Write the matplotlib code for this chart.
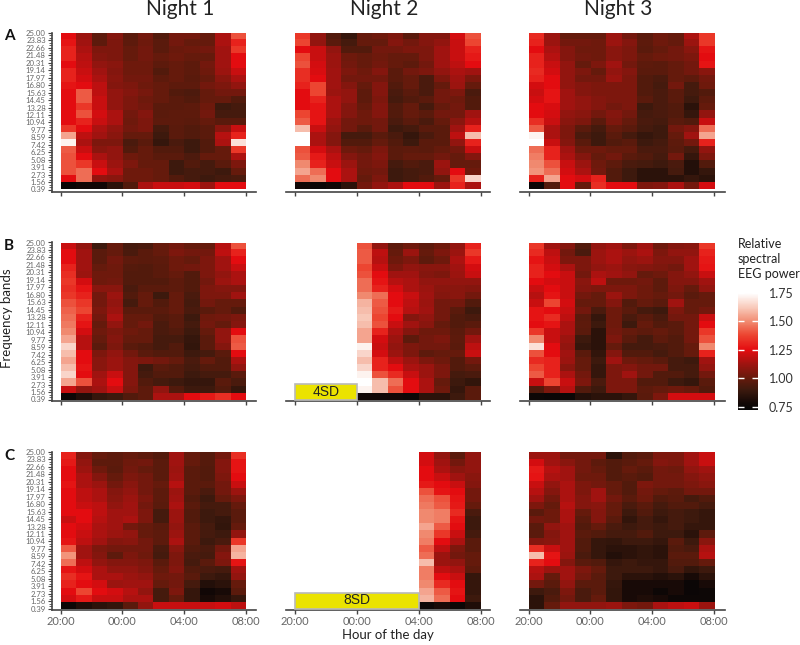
import numpy as np
import matplotlib
matplotlib.use("Agg")
import matplotlib.pyplot as plt
from matplotlib.colors import LinearSegmentedColormap, Normalize
from matplotlib.cm import ScalarMappable
from matplotlib.patches import Rectangle
from matplotlib.ticker import MultipleLocator

plt.rcParams['font.family'] = ['Lato', 'DejaVu Sans']

freq_labels = ['25.00','23.83','22.66','21.48','20.31','19.14','17.97','16.80','15.63','14.45','13.28',
               '12.11','10.94','9.77','8.59','7.42','6.25','5.08','3.91','2.73','1.56','0.39']
hour_ticks = [0, 4, 8, 12]
hour_labels = ['20:00', '00:00', '04:00', '08:00']
n = None

# each inner list is one hour column, top row (25.00) to bottom row (0.39)
A1 = [
 [1.25,1.27,1.3,1.3,1.25,1.3,1.3,1.27,1.25,1.25,1.25,1.25,1.25,1.35,1.55,1.72,1.42,1.4,1.4,1.4,1.25,.75],
 [1.12,1.13,1.15,1.17,1.18,1.2,1.22,1.25,1.42,1.42,1.35,1.4,1.3,1.25,1.18,1.15,1.2,1.25,1.35,1.45,1.45,.78],
 [.98,.98,1.05,1.07,1.1,1.13,1.15,1.18,1.18,1.2,1.2,1.22,1.2,1.15,1.13,1.05,1.08,1.15,1.2,1.25,1.1,.78],
 [1.07,1.05,1.05,1.05,1.08,1.07,1.08,1.07,1.1,1.1,1.1,1.15,1.15,1.1,1.08,1.05,1.1,1.1,1.12,1.15,1.08,.85],
 [.97,.98,1.0,1.0,1.02,1.02,1.03,1.05,1.07,1.05,1.05,1.03,1.02,1.03,1.0,.93,.95,1.02,1.05,1.02,1.02,.95],
 [1.03,1.02,1.03,1.03,1.02,1.02,1.03,1.02,1.04,1.02,1.03,1.07,1.05,1.05,1.0,.97,1.0,1.0,1.0,1.02,1.02,1.15],
 [.95,.97,.97,1.0,.98,.95,.98,1,1,1,.97,.97,.98,.92,.9,.88,.95,.97,1,1,1,1.2],
 [1.03,1.03,1.01,1.02,1.0,1,1,.98,.95,.97,.97,.98,.98,.97,.97,.93,.95,.97,.9,.9,.95,1.2],
 [1.03,1.0,1.02,1,.98,.98,.97,.98,.94,.95,.98,.98,.97,.95,.95,.9,.9,.94,.95,.92,.92,1.22],
 [1.0,1.0,1.03,1.0,1.03,1.02,1.0,1.03,1.0,1.0,1.02,1.03,1.0,.97,.97,.95,.95,1.0,.92,.92,.9,1.12],
 [1.15,1.15,1.13,1.13,1.13,1.12,1.08,1.05,1.03,1.0,.9,.92,.97,1.08,1.17,1.15,1.0,1.0,.97,.9,.92,1.25],
 [1.4,1.3,1.35,1.25,1.25,1.2,1.15,1.1,1.03,.95,.92,.92,.97,1.2,1.3,1.68,1.35,1.15,1.05,1.0,.93,1.25],
]
A2 = [
 [1.35,1.38,1.25,1.38,1.4,1.33,1.33,1.3,1.25,1.25,1.25,1.38,1.42,1.6,1.75,1.75,1.4,1.42,1.5,1.55,1.45,.78],
 [1.1,1.1,1.2,1.2,1.22,1.23,1.25,1.38,1.38,1.3,1.27,1.27,1.27,1.2,1.15,1.15,1.22,1.28,1.3,1.45,1.5,.75],
 [.95,.97,1.1,1.12,1.12,1.13,1.13,1.13,1.12,1.15,1.15,1.15,1.12,1.1,1.07,1.07,1.15,1.18,1.2,1.25,1.25,.78],
 [.88,.92,.95,1.02,1.03,1.05,1.03,1.07,1.1,1.1,1.07,1.07,1.03,1.03,.92,.95,1.02,1.07,1.12,1.15,1.15,.85],
 [1.0,1.0,.95,1.0,1.0,1.02,1.03,1.0,.98,.98,1.0,1.02,1.02,.97,.92,.95,1.0,1.03,1.03,1.02,1.0,1.03],
 [1.02,1.0,1.03,1.02,1.03,1.07,1.03,1.07,1.07,1.05,1.07,1.07,1.03,1.03,.97,1.0,1.05,1.07,1.05,1.03,1.05,1.1],
 [1.05,1.07,1.03,1.0,1.0,.97,.97,.95,.93,.92,.95,.95,.93,.9,.93,.95,.97,.97,.92,.9,.9,1.15],
 [.97,1.03,1.05,1.0,.98,1.03,1.0,1.0,.97,.95,1,1,.97,.92,.88,.9,.98,1,.95,.92,.92,1.25],
 [1.07,1.07,1.05,1.05,1.03,1.05,.93,.93,.93,.97,.92,.97,.93,.97,.93,.97,.97,1,.93,.93,.95,1.25],
 [1.07,1.1,1.13,1.13,1.13,1.1,1.05,1.0,1.03,1.03,1,1.03,1.0,.97,.97,.97,1,1.03,1.12,1.1,1.0,1.12],
 [1.22,1.2,1.2,1.2,1.18,1.15,1.13,1.12,1.05,1.02,1.03,1.03,1.08,1.13,1.18,1.1,1.03,1.0,1.0,1.25,1.35,1.3],
 [1.4,1.38,1.3,1.28,1.25,1.13,1.05,1.0,.93,.95,.95,1.13,1.17,1.3,1.6,1.3,1.2,1.07,1.0,1.02,1.65,1.15],
]
A3 = [
 [1.32,1.3,1.25,1.3,1.3,1.32,1.3,1.22,1.2,1.22,1.25,1.25,1.33,1.42,1.72,1.75,1.45,1.48,1.5,1.52,1.3,.75],
 [1.12,1.12,1.15,1.17,1.2,1.22,1.25,1.25,1.27,1.27,1.23,1.22,1.2,1.15,1.15,1.2,1.3,1.3,1.4,1.45,1.55,.95],
 [1.0,1.03,1.07,1.07,1.1,1.1,1.1,1.1,1.13,1.13,1.13,1.1,1.08,1.05,1.05,1.07,1.13,1.15,1.2,1.22,1.25,1.25],
 [1.0,1.03,1.02,1.03,1.0,1.05,1.03,1.07,1.07,1.1,1.1,1.08,1.05,.97,.93,.97,1.02,1.07,1.12,1.15,1.22,1.0],
 [1.0,1.02,1.02,1.02,1.05,1.0,1.03,1.05,1.05,1.07,1.07,1.03,.97,.92,.9,.9,1.02,1.0,1.02,1.03,1.3,1.33],
 [1.12,1.12,1.08,1.08,1.13,1.1,1.12,1.05,1.05,1.05,1.03,1.07,1.05,1.0,.97,.95,1.0,1.03,.98,.95,.95,1.25],
 [1.03,1.07,1.05,1.05,1.03,1.07,1.05,1.05,1.05,1.05,1.05,1.03,1.0,.97,.92,.97,1,.97,.93,.9,.9,1.25],
 [.97,.98,.97,1.0,.98,.97,.95,.95,.95,.97,.9,.92,.93,.92,.88,.9,.93,.95,.92,.85,.85,1.05],
 [1.02,1.02,1.0,1.02,.97,.97,.93,.92,.93,.93,.93,.93,.92,.9,.9,.92,.93,.92,.9,.85,.85,1.07],
 [1.0,1.0,1.03,1.03,1.0,1.0,1.0,1.03,.97,.97,.95,.95,.97,1.03,1.0,.98,.97,1.03,.93,.92,.85,1.15],
 [1.15,1.12,1.08,1.05,1.03,1.03,.98,.92,.92,.9,.85,.88,.95,1.07,1.13,1.03,.92,.88,.83,.83,.88,1.03],
 [1.35,1.35,1.27,1.25,1.27,1.08,1.03,1.02,.95,.98,1.0,1.1,1.2,1.45,1.55,1.3,1.1,1.05,.95,.88,.85,1.22],
]
B1 = [
 [1.2,1.25,1.25,1.3,1.33,1.35,1.33,1.35,1.4,1.43,1.45,1.47,1.5,1.55,1.65,1.6,1.55,1.6,1.65,1.55,1.2,.76],
 [1.1,1.13,1.13,1.13,1.12,1.22,1.27,1.3,1.35,1.38,1.3,1.27,1.22,1.17,1.17,1.25,1.25,1.27,1.25,1.4,1.1,.82],
 [.9,.97,.97,1.0,1.02,1.02,1.08,1.03,1.03,1.05,1.03,1.0,1.02,1.0,.97,1.05,1.08,1.08,1.13,1.15,1.13,.88],
 [1.0,1.0,1.03,1.02,1.02,1.03,1.08,1.12,1.1,1.12,1.15,1.1,1.05,1.07,1.05,1.1,1.12,1.12,1.2,1.25,1.2,.9],
 [.92,.93,.98,.96,.95,.95,.93,.95,.92,.97,1.0,1.0,1.02,1,.97,1.03,1.07,1.07,1.07,1.07,1.05,.95],
 [.93,.97,.97,.95,.95,.95,.97,1.0,1.0,.97,1,1.03,1.0,1.0,.95,.97,1.05,.9,.92,.95,.98,.98],
 [1.0,1.0,.98,.97,.97,.95,.97,.9,.95,.97,.95,.93,.93,.92,.92,.95,1.03,.97,.95,.92,1.1,1.15],
 [1.03,1.05,1.02,1.02,1.0,.98,.98,1,1,1,.97,.97,.95,.92,.95,.95,1.0,.95,.95,.9,.95,1.15],
 [1.0,1.03,1.0,1.03,.95,.95,.95,.93,.92,.93,.9,.92,.9,.88,.87,.9,.93,.92,.9,.88,.9,1.25],
 [1.0,1.03,1.05,1.05,1.05,1.03,1.05,1.05,1.03,.97,1.02,1.03,1,.97,.97,.92,1,.95,.92,.88,.9,1.28],
 [1.17,1.18,1.13,1.13,1.1,1.12,1.07,1.05,1.0,1,1.03,1,1.1,1.1,1.07,.97,.95,.95,.92,.97,.95,1.33],
 [1.4,1.3,1.25,1.2,1.15,1.15,1.07,1.13,1.0,.95,1.05,1.07,1.25,1.4,1.42,1.25,1.15,1.1,.97,.93,.88,1.25],
]
B2 = [
 [n]*22, [n]*22, [n]*22, [n]*22,
 [1.4,1.42,1.42,1.38,1.4,1.45,1.45,1.5,1.58,1.6,1.62,1.6,1.55,1.55,1.72,1.65,1.6,1.65,1.72,1.75,1.72,.78],
 [1.1,1.18,1.17,1.2,1.25,1.27,1.3,1.45,1.42,1.4,1.38,1.4,1.3,1.22,1.2,1.22,1.3,1.3,1.4,1.6,1.6,.78],
 [.98,1.0,1.02,1.05,1.13,1.17,1.22,1.25,1.25,1.28,1.25,1.2,1.15,1.12,1.1,1.12,1.18,1.25,1.32,1.45,1.4,.78],
 [1.02,1.12,1.05,1.1,1.13,1.15,1.15,1.2,1.18,1.17,1.07,1.13,1.07,.98,1.05,1.05,1.12,1.15,1.2,1.25,1.25,.76],
 [.98,1.0,.98,1.08,1.07,1.1,1.12,1.13,1.12,1.13,1.1,1.08,1.02,1.03,1.03,.98,1.05,1.12,1.12,1.15,1.15,.85],
 [1.02,1.05,1.02,1.08,1.05,1.1,1.08,1.07,1.03,1.03,1.03,1.0,1.02,1.05,1.03,1.0,1.02,1.05,1.05,1.0,1.02,.85],
 [1.1,1.12,1.15,1.13,1.12,1.1,1.08,1.08,1.03,.97,.95,.95,.97,.98,.97,1.0,.95,.95,.92,.9,.88,.9],
 [1.3,1.35,1.28,1.22,1.2,1.1,1.07,1.03,.95,.9,.93,.97,1.03,1.13,1.18,1.2,1.03,.98,.93,.87,.97,.97],
]
B3 = [
 [1.35,1.32,1.27,1.3,1.3,1.25,1.2,1.17,1.2,1.27,1.27,1.25,1.35,1.5,1.68,1.4,1.32,1.38,1.42,1.2,.95,.76],
 [1.13,1.18,1.2,1.22,1.25,1.22,1.25,1.27,1.38,1.25,1.32,1.27,1.2,1.2,1.25,1.25,1.3,1.3,1.3,1.38,1.05,.75],
 [1.07,1.03,1.05,1.15,1.2,1.2,1.2,1.2,1.22,1.2,1.18,1.15,1.15,1.12,1.1,1.13,1.12,1.08,1.15,1.2,1.17,.76],
 [.95,.93,1.05,1.05,1.03,1.08,1.07,1.03,1.0,1.03,.97,.98,.97,.9,.88,.97,1.0,1.0,1.03,1.05,.95,.83],
 [1.1,1.12,1.12,1.1,1.15,1.18,1.05,1.0,1.0,.93,.88,.9,.85,.85,.85,.87,.9,.88,.88,.93,.9,.85],
 [1.13,1.15,1.15,1.12,1.13,1.02,1.05,1.12,1.07,1.02,1.02,1.02,1.03,1.05,1.0,1.07,1.13,1.05,1.05,1.05,1.05,.85],
 [1.05,1.12,1.1,1.08,1.1,1.02,1.05,1.05,.95,.97,.93,.9,1.0,.97,.92,.95,1.02,1.07,1.13,1.05,1.05,.88],
 [1.13,1.15,1.12,1.07,1.0,1.03,1.02,1.02,1.0,.92,.97,1.0,.98,.92,.92,.95,1.0,1.03,1.03,.95,.98,.97],
 [1.02,1.05,1.07,1.05,1.02,.98,.98,1.0,.97,.9,.93,.95,1.0,.98,.93,.92,.97,1.03,.95,.95,1.0,1.05],
 [1.07,1.1,1.07,1.03,1.07,1.07,1.05,1.03,1.13,1.05,1.03,.97,.97,.95,.95,.95,.92,.92,.95,.9,1.02,1.22],
 [1.08,1.1,1.13,1.13,1.1,1.07,1.0,.97,1.0,1.0,1.03,1.03,1.03,1.03,1.0,1.0,.9,.92,.92,.88,1.0,1.22],
 [1.35,1.3,1.28,1.27,1.2,1.13,1.1,1.0,1.0,1.03,1.2,1.25,1.35,1.4,1.5,1.3,1.13,1.1,1.03,.97,.95,1.22],
]
C1 = [
 [1.3,1.28,1.25,1.25,1.27,1.25,1.25,1.25,1.25,1.2,1.25,1.25,1.27,1.42,1.52,1.45,1.27,1.33,1.3,1.25,1.22,.76],
 [1.07,1.1,1.12,1.15,1.15,1.18,1.18,1.2,1.25,1.25,1.22,1.2,1.18,1.13,1.13,1.18,1.22,1.27,1.25,1.38,1.28,.82],
 [1.0,.98,1.02,1.07,1.12,1.15,1.15,1.18,1.18,1.17,1.15,1.15,1.13,1.05,1.07,1.1,1.15,1.15,1.22,1.25,1.2,.85],
 [.98,.98,.97,1.0,1.03,1.07,1.08,1.1,1.13,1.13,1.13,1.12,1.07,1.03,.98,1.07,1.1,1.15,1.12,1.22,1.2,.87],
 [1.0,1.02,1.03,1.05,1.08,1.1,1.12,1.13,1.13,1.15,1.03,1.1,1.08,1.03,1.05,1.07,1.1,1.12,1.13,1.17,1.15,.97],
 [.98,1.03,1.0,1.03,1.03,1.03,1.05,1.03,1.05,1.05,1.0,1.0,1.03,1.03,1.02,1.05,1.07,1.1,1.13,1.1,1.15,1.1],
 [.95,.97,.97,.97,1.0,.98,.98,.97,.92,.92,.97,.98,.98,.93,.92,.97,1.0,1.02,1.0,.92,.92,1.2],
 [1.13,1.13,1.12,1.13,1.17,1.12,1.13,1.15,1.12,1.12,1.1,1.12,1.15,1.08,1.05,1.05,1.07,1.03,1.03,1.05,1.0,1.2],
 [1.0,1.0,.97,.97,.97,.97,.95,.97,.95,.95,.97,.97,.97,.95,.93,.92,.95,.97,.92,.88,.88,1.2],
 [.96,.96,.95,.95,.97,.93,.9,.92,.9,.9,.92,.92,.9,.93,.92,.97,.93,.9,.83,.78,.8,1.2],
 [1.03,1.07,1.07,1.05,1.03,1.03,1.0,.92,.92,.88,.87,.9,.93,1.03,1.07,1.05,.92,.88,.85,.8,.83,1.22],
 [1.33,1.27,1.27,1.25,1.2,1.12,1.05,1.0,.97,.97,1.0,1.1,1.35,1.55,1.58,1.27,1.13,1.1,1.0,.97,.88,1.18],
]
C2 = [
 [n]*22, [n]*22, [n]*22, [n]*22, [n]*22, [n]*22, [n]*22, [n]*22,
 [1.22,1.22,1.25,1.25,1.28,1.4,1.45,1.47,1.5,1.5,1.55,1.5,1.48,1.42,1.45,1.6,1.48,1.48,1.5,1.55,1.58,.76],
 [1.1,1.13,1.15,1.2,1.25,1.27,1.4,1.42,1.48,1.48,1.42,1.35,1.25,1.18,1.12,1.12,1.18,1.25,1.32,1.42,1.45,.8],
 [.97,1.03,1.08,1.13,1.2,1.25,1.27,1.28,1.32,1.27,1.25,1.2,1.15,1.05,1.03,1.1,1.15,1.2,1.25,1.27,1.25,.76],
 [1.1,1.1,1.1,1.08,1.07,1.03,1.03,1.0,.93,.9,.9,.92,.97,.97,1.0,1.0,.98,.88,.88,.88,.9,.82],
]
C3 = [
 [1.12,1.22,1.28,1.27,1.2,1.17,1.13,1.05,.97,1.03,.97,.97,1.07,1.33,1.6,1.3,1.17,1.15,1.03,.9,.85,.85],
 [1.12,1.13,1.17,1.15,1.1,1.07,1.03,1.0,1.02,1.02,1.1,1.07,1.08,1.2,1.27,1.25,1.12,1.0,.97,.93,.95,1.0],
 [1.03,1.08,1.13,1.13,1.15,1.15,1.15,1.17,1.15,1.15,1.13,1.13,1.13,1.13,1.12,1.07,1.13,1.13,1.1,1.05,1.03,1.1],
 [1.03,1.03,1.03,1.02,1.05,1.05,1.07,1.07,1.0,.97,.95,.97,.95,.95,.93,.97,1.05,1.03,.97,.93,.93,1.1],
 [1.03,.98,1.0,1.02,1.03,1.13,1.13,1.08,1.07,1.07,1.0,.95,.88,.88,.88,.95,1.0,.97,.97,.97,1.0,1.1],
 [.85,.95,.95,.95,1.0,1.0,1.03,1.0,1.0,.97,.93,.92,.87,.85,.83,.88,.9,.9,.88,.87,.87,1.12],
 [.95,.97,1.0,.97,.95,.95,.97,.93,.9,.87,.9,.92,.9,.85,.85,.9,.9,.85,.8,.8,.8,1.05],
 [.97,1.0,.97,.95,1.05,1.03,1.02,.97,.95,.92,.92,.95,.9,.87,.87,.88,.9,.85,.8,.8,.82,1.03],
 [1.05,1.07,1.03,1.03,1.03,1.0,.95,.92,.9,.88,.9,.9,.88,.85,.85,.88,.88,.83,.8,.76,.8,1.15],
 [1.05,1.05,1.02,1.03,1.03,.98,.97,.95,.92,.92,.92,.9,.97,.95,.97,.95,.93,.85,.8,.8,.76,1.18],
 [1.13,1.13,1.1,1.07,1.05,1.03,.92,.95,.9,.9,.88,.85,.9,.93,.97,.95,.87,.8,.75,.75,.76,1.2],
 [1.2,1.2,1.13,1.1,1.08,1.03,.95,.92,.88,.88,.88,.98,1.08,1.15,1.17,1.0,.9,.85,.8,.76,.76,1.12],
]
panels = [[A1, A2, A3], [B1, B2, B3], [C1, C2, C3]]
row_names = ['A', 'B', 'C']
col_names = ['Night 1', 'Night 2', 'Night 3']
sd_bars = {(1, 1): ('4SD', 4), (2, 1): ('8SD', 8)}
cbar_ticks = [0.75, 1.00, 1.25, 1.50, 1.75]

VMIN, VMAX = 0.72, 1.75
def pos(v):
    return (v - VMIN) / (VMAX - VMIN)
stops = [(0.72, '#060606'), (0.78, '#120806'), (0.90, '#3e1a0e'), (1.00, '#661a0c'),
         (1.12, '#9c1410'), (1.25, '#e40c10'), (1.38, '#ec4430'), (1.50, '#f18a70'),
         (1.62, '#f8c8b8'), (1.75, '#ffffff')]
cmap = LinearSegmentedColormap.from_list('eeg', [(pos(v), c) for v, c in stops])
cmap.set_bad('white')
norm = Normalize(VMIN, VMAX)

W, H = 800, 645
fig = plt.figure(figsize=(W / 100, H / 100), dpi=100, facecolor='white')

def px_axes(x0, y0, x1, y1):
    return fig.add_axes([x0 / W, 1 - y1 / H, (x1 - x0) / W, (y1 - y0) / H])

heat_x = [(60.5, 245.5), (295, 480.5), (528.5, 714)]
axis_x = [(52, 256), (286, 490), (520, 725)]
heat_y = [(33, 189.5), (242.5, 399.5), (452, 608.5)]
axis_y = [191.5, 400.8, 609.5]
TICK = '#444444'
LAB = '#666666'

for r in range(3):
    for c in range(3):
        hx0, hx1 = heat_x[c]
        ax0, ax1 = axis_x[c]
        hy0, hy1 = heat_y[r]
        ay = axis_y[r]
        ax = px_axes(ax0, hy0, ax1, ay)
        pph = (hx1 - hx0) / 12
        ppr = (hy1 - hy0) / 21
        data = np.array(panels[r][c], dtype=float).T
        ax.imshow(np.ma.masked_invalid(data), cmap=cmap, norm=norm, extent=(0, 12, 0, 21),
                  aspect='auto', interpolation='nearest', origin='upper', zorder=1)
        ax.set_xlim((ax0 - hx0) / pph, (ax1 - hx0) / pph)
        ax.set_ylim(-(ay - hy1) / ppr, 21)
        for s in ['top', 'right']:
            ax.spines[s].set_visible(False)
        ax.spines['bottom'].set_color(TICK)
        ax.spines['bottom'].set_linewidth(1.2)
        ax.patch.set_alpha(0)
        ax.set_xticks(hour_ticks)
        if r == 2:
            ax.set_xticklabels(hour_labels, fontsize=8, color=LAB)
        else:
            ax.set_xticklabels([])
        ax.tick_params(axis='x', length=3, width=1, color=TICK, pad=2)
        if c == 0:
            ax.spines['left'].set_color(TICK)
            ax.spines['left'].set_linewidth(1.2)
            ax.set_yticks(range(22))
            ax.set_yticklabels(freq_labels[::-1], fontsize=5.6, color=LAB)
            ax.yaxis.set_minor_locator(MultipleLocator(1 / 3))
            ax.tick_params(axis='y', which='major', length=3, width=0.8, color=TICK, pad=1.5)
            ax.tick_params(axis='y', which='minor', length=2.5, width=0.6, color=TICK)
        else:
            ax.spines['left'].set_visible(False)
            ax.set_yticks([])
        if (r, c) in sd_bars:
            label, hours = sd_bars[(r, c)]
            ax.add_patch(Rectangle((0, 0.0), hours, 16 / ppr, facecolor='#ebe300',
                                   edgecolor='#b9b9b9', linewidth=1.2, zorder=3))
            ax.text(hours / 2, 8 / ppr, label, ha='center', va='center', fontsize=10,
                    family='Liberation Sans', color='#222222', zorder=4)

def ftext(x, y, s, **kw):
    fig.text(x / W, 1 - y / H, s, **kw)

for name, x in zip(col_names, [180, 384, 618]):
    ftext(x, 9, name, ha='center', va='center', fontsize=15, color='#222222')
for name, y in zip(row_names, [36, 246, 456]):
    ftext(9, y, name, ha='center', va='center', fontsize=11, fontweight='bold', color='#111111')
ftext(7, 318, 'Frequency bands', rotation=90, ha='center', va='center', fontsize=9.5, color='#222222')
ftext(388, 635, 'Hour of the day', ha='center', va='center', fontsize=9.5, color='#222222')
ftext(738, 259, 'Relative\nspectral\nEEG power', ha='left', va='center', fontsize=9,
      color='#222222', linespacing=1.25)

cax = px_axes(737.5, 293, 758, 410)
cb = fig.colorbar(ScalarMappable(norm=norm, cmap=cmap), cax=cax, ticks=cbar_ticks)
cb.outline.set_visible(False)
cb.ax.set_yticklabels(['%.2f' % t for t in cbar_ticks], fontsize=9, color='#333333')
cb.ax.tick_params(axis='y', which='both', left=True, right=True, direction='in', length=4,
                  width=1, color='white', pad=8)

fig.savefig('out.png', dpi=100, facecolor='white')
